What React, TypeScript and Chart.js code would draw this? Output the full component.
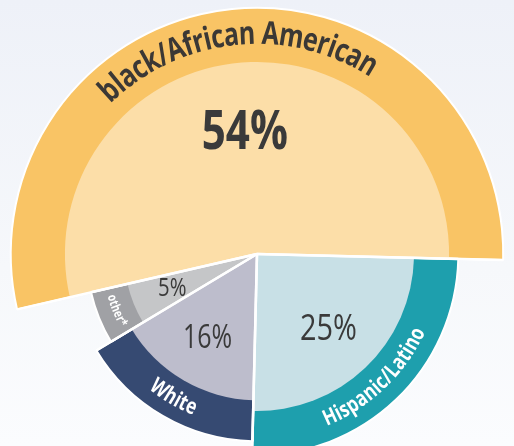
import { useEffect, useRef } from 'react';
import { Chart, registerables } from 'chart.js';

Chart.register(...registerables);

// ---- data ----
const categories = ['black/African American', 'Hispanic/Latino', 'White', 'other*'];
const shares = [54, 25, 16, 5];
const percentLabels = shares.map((v) => `${v}%`);

// ---- styles ----
const bandColors = ['#f9c465', '#1e9fad', '#364a72', '#a0a1a5'];
const fillColors = ['#fcdea8', '#c8e0e6', '#bdbdcc', '#c5c6c8'];
const nameColors = ['#3b3835', '#ffffff', '#ffffff', '#ffffff'];
const nameSizes = [32, 22, 22, 13];
const pctSizes = [54, 37, 32, 26];
const pctWeights = ['bold', 'normal', 'normal', 'normal'];
const FONT = "'Open Sans', 'Noto Sans', sans-serif";
const INNER_RATIO = 0.78;
const SQUEEZE = 0.78;

function drawArcText(
  ctx: CanvasRenderingContext2D,
  text: string,
  cx: number,
  cy: number,
  r: number,
  mid: number,
  topsOutward: boolean
) {
  const chars = Array.from(text);
  const widths = chars.map((c) => ctx.measureText(c).width * SQUEEZE);
  const total = widths.reduce((a, b) => a + b, 0);
  let cum = 0;
  chars.forEach((c, k) => {
    const w = widths[k];
    const off = (cum + w / 2) / r;
    const a = topsOutward ? mid - total / (2 * r) + off : mid + total / (2 * r) - off;
    ctx.save();
    ctx.translate(cx + r * Math.cos(a), cy + r * Math.sin(a));
    ctx.rotate(topsOutward ? a + Math.PI / 2 : a - Math.PI / 2);
    ctx.scale(SQUEEZE, 1);
    ctx.fillText(c, 0, 0);
    ctx.restore();
    cum += w;
  });
}

const ringPlugin = {
  id: 'ringPlugin',
  afterDatasetsDraw(chart: any) {
    const ctx: CanvasRenderingContext2D = chart.ctx;
    const arcs = chart.getDatasetMeta(0).data;
    const geo = arcs.map((arc: any) =>
      arc.getProps(['x', 'y', 'startAngle', 'endAngle', 'outerRadius'], true)
    );
    // lighter inner wedges
    geo.forEach((g: any, i: number) => {
      const inner = g.outerRadius * INNER_RATIO;
      ctx.save();
      ctx.beginPath();
      ctx.moveTo(g.x, g.y);
      ctx.arc(g.x, g.y, inner, g.startAngle, g.endAngle);
      ctx.closePath();
      ctx.fillStyle = fillColors[i];
      ctx.fill();
      ctx.restore();
    });
    // white separators
    ctx.save();
    ctx.strokeStyle = '#ffffff';
    ctx.lineWidth = 2.5;
    geo.forEach((g: any) => {
      [g.startAngle, g.endAngle].forEach((a: number) => {
        ctx.beginPath();
        ctx.moveTo(g.x, g.y);
        ctx.lineTo(g.x + g.outerRadius * Math.cos(a), g.y + g.outerRadius * Math.sin(a));
        ctx.stroke();
      });
    });
    ctx.restore();
    // labels
    geo.forEach((g: any, i: number) => {
      const inner = g.outerRadius * INNER_RATIO;
      const mid = (g.startAngle + g.endAngle) / 2;
      // percentage
      ctx.save();
      ctx.fillStyle = '#3a3a3a';
      ctx.font = `${pctWeights[i]} ${pctSizes[i]}px ${FONT}`;
      ctx.textAlign = 'center';
      ctx.textBaseline = 'middle';
      const pr = inner * 0.5 + 25;
      ctx.translate(g.x + pr * Math.cos(mid), g.y + pr * Math.sin(mid));
      ctx.scale(SQUEEZE, 1);
      ctx.fillText(percentLabels[i], 0, 0);
      ctx.restore();
      // category name along the band
      ctx.save();
      ctx.fillStyle = nameColors[i];
      ctx.font = `bold ${nameSizes[i]}px ${FONT}`;
      ctx.textAlign = 'center';
      ctx.textBaseline = 'middle';
      const nr = (inner + g.outerRadius) / 2;
      drawArcText(ctx, categories[i], g.x, g.y, nr, mid, Math.sin(mid) < 0);
      ctx.restore();
    });
  },
};

export default function App() {
  const ref = useRef<HTMLCanvasElement | null>(null);
  useEffect(() => {
    if (!ref.current) return;
    const chart = new Chart(ref.current, {
      type: 'polarArea',
      data: {
        labels: categories,
        datasets: [
          {
            data: shares,
            backgroundColor: bandColors,
            borderColor: '#ffffff',
            borderWidth: 2,
            angle: (c: any) => shares[c.dataIndex] * 3.6,
          } as any,
        ],
      },
      options: {
        responsive: false,
        animation: false,
        events: [],
        layout: { padding: 0 },
        plugins: { legend: { display: false }, tooltip: { enabled: false } },
        scales: {
          r: {
            display: false,
            min: -105,
            max: 59,
            startAngle: 257,
          },
        },
      },
      plugins: [ringPlugin],
    } as any);
    return () => chart.destroy();
  }, []);
  return (
    <div
      style={{
        position: 'absolute',
        left: 0,
        top: 0,
        width: 514,
        height: 446,
        overflow: 'hidden',
        background: 'linear-gradient(to bottom, #eef1f8 0%, #f6f8fb 60%, #fbfcfe 100%)',
      }}
    >
      <canvas ref={ref} width={514} height={508} style={{ display: 'block' }} />
    </div>
  );
}
